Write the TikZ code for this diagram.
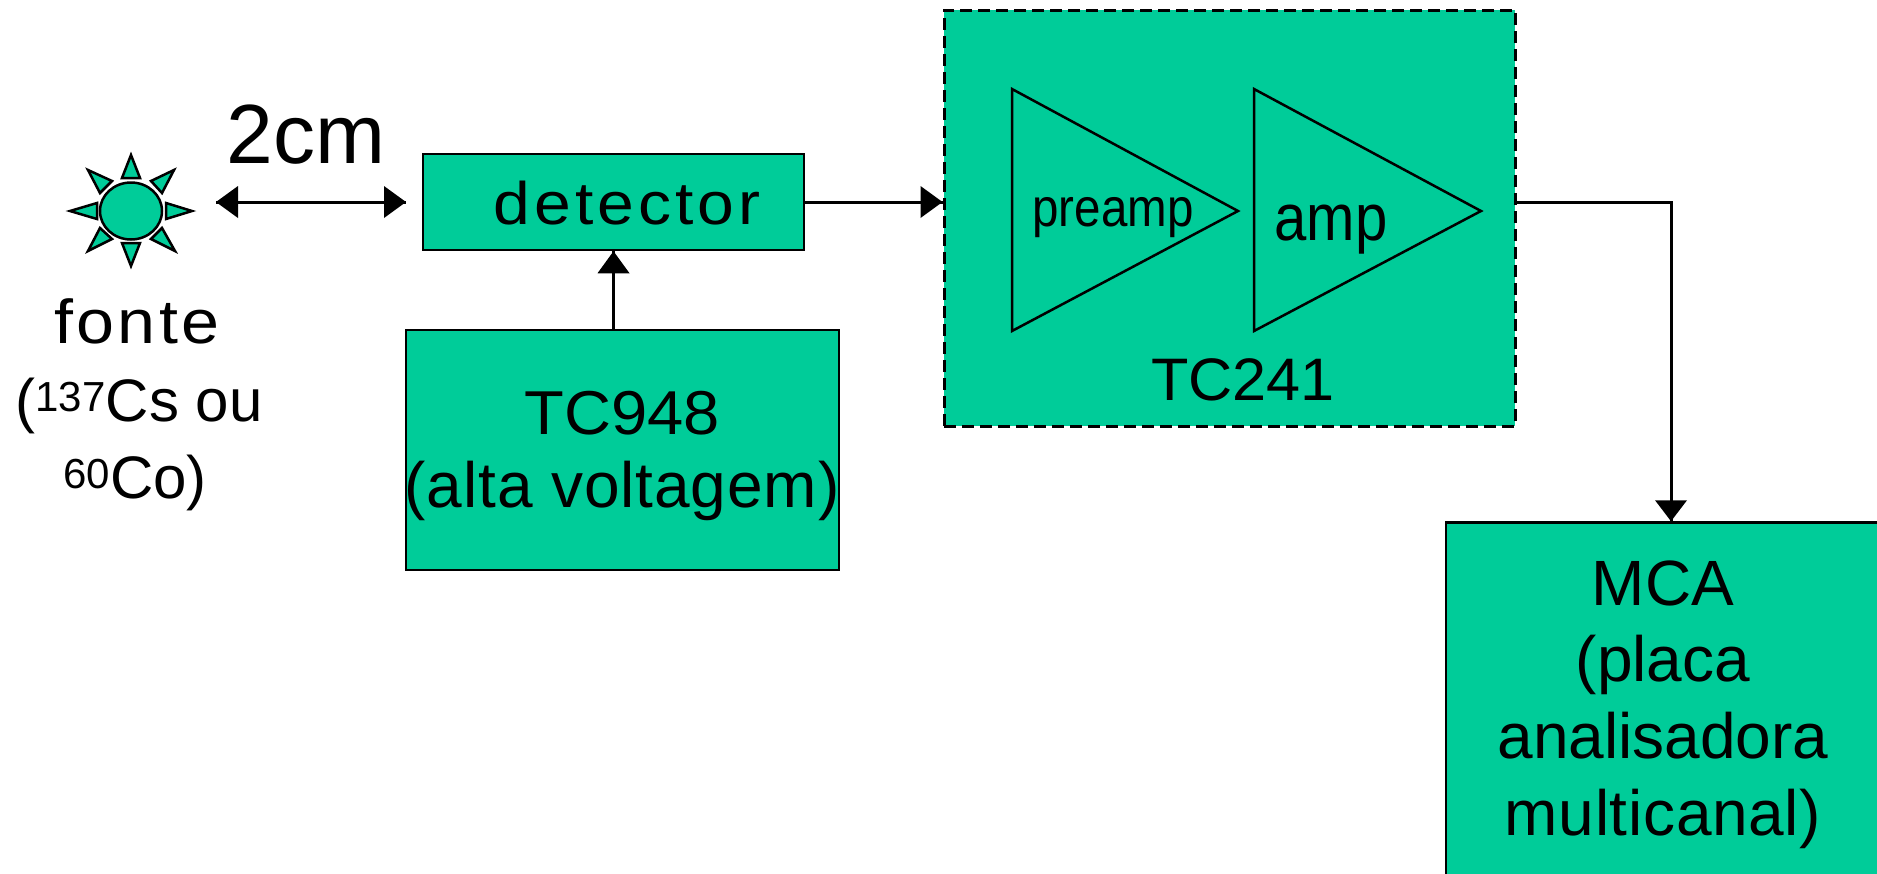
\documentclass[tikz,border=0pt]{standalone}
\usepackage{fontspec}
\setmainfont{Liberation Sans}
\definecolor{boxgreen}{HTML}{00CC99}
\newcommand{\sz}[1]{\fontsize{#1}{#1}\selectfont}
\newcommand{\sq}[2]{\scalebox{#1}[1]{#2}}
\newcommand{\ls}[1]{\addfontfeature{LetterSpace=#1}}
\tikzset{
  box/.style={draw=black,fill=boxgreen,line width=2.5pt,inner sep=0pt,minimum width=#1},
  lab/.style={inner sep=0pt,text=black,anchor=base},
  conn/.style={draw=black,line width=3pt},
  tipfill/.style={fill=black,draw=none},
  amptri/.style={draw=black,line width=2.5pt,line join=miter},
  ray/.style={draw=black,fill=boxgreen,line width=2.5pt,line join=miter},
}
\begin{document}
\begin{tikzpicture}[x=1pt,y=-1pt]
\useasboundingbox (0,0) rectangle (1877,873);
\clip (0,0) rectangle (1877,873);
% boxes
\node[box=381pt,minimum height=96pt] (det) at (613.5,202) {};
\node[box=433pt,minimum height=240pt] (hv) at (622.5,450) {};
\node[box=571pt,minimum height=416pt,line width=3pt,dash pattern=on 12pt off 6pt] (tc) at (1229.5,218) {};
\node[box=460pt,minimum height=400pt] (mca) at (1676,722.5) {};
% amplifier triangles
\draw[amptri] (1012,89) coordinate (p1) -- (1238,211) coordinate (p2) -- (1012,331) coordinate (p3) -- cycle;
\draw[amptri] (1254,89) coordinate (a1) -- (1481,211) coordinate (a2) -- (1254,331) coordinate (a3) -- cycle;
% source
\draw[draw=black,fill=boxgreen,line width=2.5pt] (131,211) ellipse (31 and 28.5);
\coordinate (src) at (131,211);
\draw[ray] (131,155) -- (140,178) -- (122,178) -- cycle;
\draw[ray] (131,266) -- (140,243) -- (122,243) -- cycle;
\draw[ray] (70,211) -- (97,203) -- (97,219) -- cycle;
\draw[ray] (192,211) -- (166,203) -- (166,219) -- cycle;
\draw[ray] (88,170) -- (112,181) -- (100,193) -- cycle;
\draw[ray] (174,170) -- (151,181) -- (162,193) -- cycle;
\draw[ray] (88,251) -- (112,239) -- (100,228) -- cycle;
\draw[ray] (175,251) -- (151,239) -- (162,228) -- cycle;
% connectors
\coordinate (dl) at (216,202);
\coordinate (dr) at (406,202);
\draw[conn] (dl) -- (dr);
\fill[tipfill] (dl) -- ++(22,-16) -- ++(0,32) -- cycle;
\fill[tipfill] (dr) -- ++(-22,-16) -- ++(0,32) -- cycle;
\draw[conn] (det.east) -- (tc.west |- det.east);
\fill[tipfill] (tc.west |- det.east) -- ++(-22,-16) -- ++(0,32) -- cycle;
\draw[conn] (hv.north -| det.south) -- (det.south);
\fill[tipfill] (det.south) -- ++(-16,22) -- ++(32,0) -- cycle;
\coordinate (bend) at (1671,202);
\draw[conn] (tc.east |- bend) -- (bend) -- (bend |- mca.north);
\fill[tipfill] (bend |- mca.north) -- ++(-16,-21) -- ++(32,0) -- cycle;
% texts
\node[lab] (t2cm) at (306,163) {\sz{84}2cm};
\node[lab] (tdet) at (627,224) {\sz{60}\sq{1.1}{\ls{6}detector}};
\node[lab] (thv1) at (622,434) {\sz{62}\sq{1.05}{TC948}};
\node[lab] (thv2) at (622,507) {\sz{64}\ls{1.4}(alta voltagem)};
\node[lab] (ttc) at (1243,400) {\sz{60}\sq{1.02}{TC241}};
\node[lab] (tpre) at (1113,226) {\sz{54}\sq{0.88}{preamp}};
\node[lab] (tamp) at (1331,240) {\sz{66}\sq{0.88}{amp}};
\node[lab] (tf1) at (137,343) {\sz{62}\sq{1.1}{\ls{5}fonte}};
\node[lab] (tf2) at (139,421) {\sz{60}(\textsuperscript{137}Cs ou};
\node[lab] (tf3) at (135,498) {\sz{60}\textsuperscript{60}Co)};
\node[lab] (tm1) at (1663,605) {\sz{64}MCA};
\node[lab] (tm2) at (1663,681) {\sz{64}(placa};
\node[lab] (tm3) at (1663,758) {\sz{64}analisadora};
\node[lab] (tm4) at (1663,835) {\sz{64}\ls{1.1}multicanal)};
\end{tikzpicture}
\end{document}
